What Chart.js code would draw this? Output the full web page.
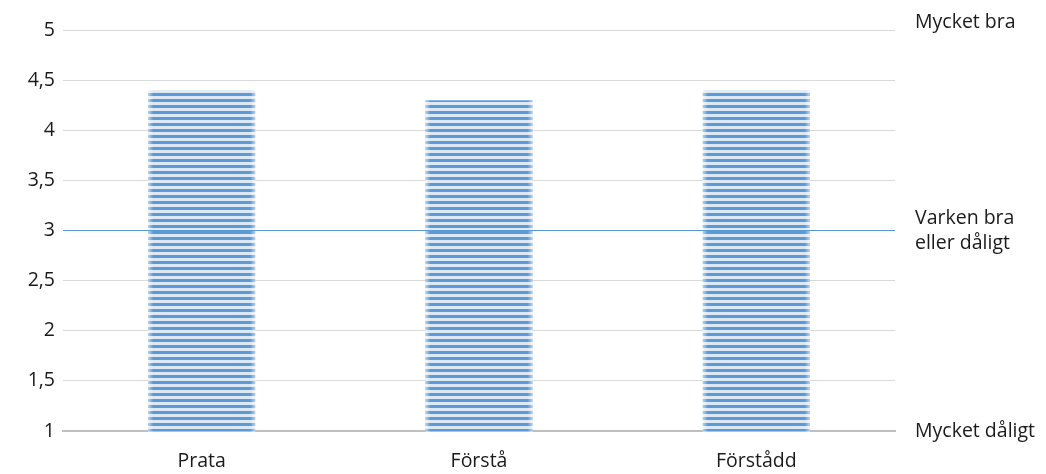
<!DOCTYPE html>
<html>
<head>
<meta charset="utf-8">
<script src="https://cdn.jsdelivr.net/npm/chart.js@4/dist/chart.umd.min.js"></script>
<style>
  html, body { margin: 0; padding: 0; background: #fff; }
  #wrap { width: 1046px; height: 474px; }
</style>
</head>
<body>
<div id="wrap"><canvas id="chart" width="1046" height="474"></canvas></div>
<script>
(function () {
    'use strict';

    // answers per question, scale 1-5
    var categories = ['Prata', 'Förstå', 'Förstådd'];
    var scores = [4.4, 4.3, 4.4];

    // neutral reference line across the plot
    var neutralX = [0, 1];
    var neutralY = [3, 3];

    var scaleLabels = { 1: 'Mycket dåligt', 3: ['Varken bra', 'eller dåligt'], 5: ['Mycket bra', ''] };

    var blue = '#5b9bd5';
    var font = { family: '"Open Sans", Lato, sans-serif', size: 19.5, lineHeight: 1.28 };

    // horizontal striped fill for the bars
    function stripes() {
        var c = document.createElement('canvas');
        c.width = 8;
        c.height = 6;
        var g = c.getContext('2d');
        g.fillStyle = '#dde8f4';
        g.fillRect(0, 0, 8, 6);
        g.fillStyle = blue;
        g.fillRect(0, 3, 8, 3);
        return g.createPattern(c, 'repeat');
    }

    // light fade on the left/right edges of each bar
    var softEdges = {
        id: 'softEdges',
        afterDatasetDraw: function (chart, args) {
            if (args.meta.type !== 'bar') return;
            var g = chart.ctx;
            args.meta.data.forEach(function (bar) {
                var p = bar.getProps(['x', 'y', 'base', 'width'], true);
                var left = p.x - p.width / 2;
                var right = p.x + p.width / 2;
                var top = Math.min(p.y, p.base);
                var h = Math.abs(p.base - p.y);
                var w = 5;
                var gl = g.createLinearGradient(left, 0, left + w, 0);
                gl.addColorStop(0, 'rgba(255,255,255,0.55)');
                gl.addColorStop(1, 'rgba(255,255,255,0)');
                g.fillStyle = gl;
                g.fillRect(left, top, w, h);
                var gr = g.createLinearGradient(right - w, 0, right, 0);
                gr.addColorStop(0, 'rgba(255,255,255,0)');
                gr.addColorStop(1, 'rgba(255,255,255,0.55)');
                g.fillStyle = gr;
                g.fillRect(right - w, top, w, h);
            });
        },
    };

    var ctx = document.getElementById('chart').getContext('2d');

    new Chart(ctx, {
        data: {
            labels: categories,
            datasets: [{
                type: 'bar',
                data: scores,
                backgroundColor: stripes(),
                borderWidth: 0,
                grouped: false,
                barPercentage: 0.386,
                categoryPercentage: 1,
                order: 2,
            }, {
                type: 'line',
                data: neutralX.map(function (x, i) { return { x: x, y: neutralY[i] }; }),
                xAxisID: 'xLine',
                borderColor: blue,
                borderWidth: 1,
                pointRadius: 0,
                fill: false,
                order: 1,
            }],
        },
        plugins: [softEdges],
        options: {
            responsive: false,
            animation: false,
            layout: { padding: { top: 30, left: 0, right: 0, bottom: 0 } },
            plugins: {
                legend: { display: false },
                tooltip: { enabled: false },
            },
            scales: {
                x: {
                    type: 'category',
                    grid: { display: false, drawTicks: false },
                    border: { color: '#bfbfbf', width: 2 },
                    ticks: { font: font, color: '#1a1a1a', padding: 18 },
                    afterFit: function (s) { s.height = 43; },
                },
                xLine: {
                    type: 'linear',
                    display: false,
                    min: 0,
                    max: 1,
                },
                y: {
                    min: 1,
                    max: 5,
                    grid: { color: '#d9d9d9', drawTicks: false },
                    border: { display: false },
                    ticks: {
                        stepSize: 0.5,
                        font: font,
                        color: '#1a1a1a',
                        padding: 8,
                        callback: function (v) { return String(v).replace('.', ','); },
                    },
                    afterFit: function (s) { s.width = 63; },
                },
                yRight: {
                    position: 'right',
                    min: 1,
                    max: 5,
                    grid: { display: false, drawTicks: false },
                    border: { display: false },
                    ticks: {
                        stepSize: 1,
                        font: function (c) {
                            // top label sits a little above its gridline
                            var lh = c.tick && c.tick.value === 5 ? 0.8 : 1.28;
                            return { family: font.family, size: font.size, lineHeight: lh };
                        },
                        color: '#1a1a1a',
                        padding: 20,
                        callback: function (v) { return scaleLabels[v] || ''; },
                    },
                    afterFit: function (s) {
                        s.width = 151;
                        s.paddingTop = 0;
                        s.paddingBottom = 0;
                    },
                },
            },
        },
    });
})();
</script>
</body>
</html>
